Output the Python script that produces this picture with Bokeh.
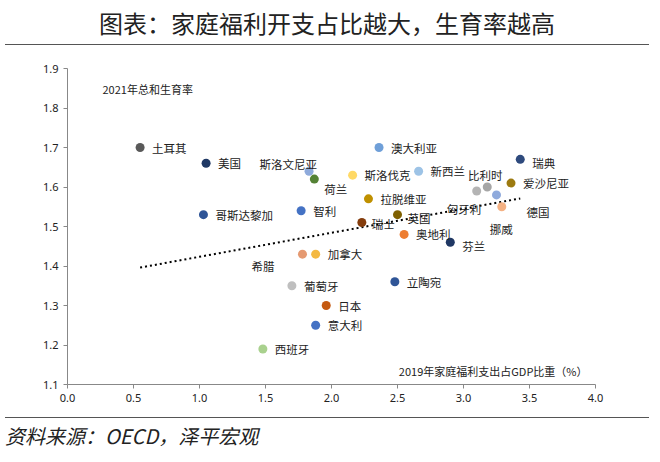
from bokeh.plotting import figure
from bokeh.models import ColumnDataSource, Div, Label, FixedTicker, NumeralTickFormatter
from bokeh.layouts import column
from bokeh.embed import file_html
from bokeh.resources import INLINE
from bokeh.core.properties import value

countries = ["土耳其","美国","斯洛文尼亚","荷兰","哥斯达黎加","智利","希腊","加拿大","葡萄牙","日本","意大利","西班牙",
             "澳大利亚","斯洛伐克","拉脱维亚","瑞士","英国","奥地利","芬兰","立陶宛","新西兰","瑞典","匈牙利","比利时","爱沙尼亚","德国","挪威"]
welfare = [0.55,1.05,1.83,1.87,1.03,1.77,1.78,1.88,1.70,1.96,1.88,1.48,
           2.36,2.16,2.28,2.23,2.50,2.55,2.90,2.48,2.66,3.43,3.10,3.18,3.36,3.25,3.29]
fertility = [1.70,1.66,1.64,1.62,1.53,1.54,1.43,1.43,1.35,1.30,1.25,1.19,
             1.70,1.63,1.57,1.51,1.53,1.48,1.46,1.36,1.64,1.67,1.59,1.60,1.61,1.58,1.55]
colors = ["#595959","#1f3864","#8eaadb","#548235","#2f5597","#4472c4","#e59a72","#f4b942","#bfbfbf","#c55a11","#4472c4","#a9d18e",
          "#6f9fd8","#ffd966","#bf9000","#843c0c","#7f6000","#ed7d31","#203864","#2f5597","#9dc3e6","#2e4a7d","#b4b4b4","#a6a6a6","#9c7a10","#8faadc","#f4b183"]
label_dx = [12,12,8,10,12,12,-28,12,12,12,12,12, 12,12,12,10,10,12,12,12,12,12,-30,-2,12,30,-12]
label_dy = [0,0,7,-10,0,0,-12,0,0,0,0,0, 0,0,0,-1,-3,0,-4,0,0,-4,-18,12,0,-17,-22]
label_align = ["left","left","right","left","left","left","right","left","left","left","left","left",
               "left","left","left","left","left","left","left","left","left","left","left","center","left","left","left"]
trend_x = [0.55, 3.43]
trend_y = [1.396, 1.571]

src = ColumnDataSource(dict(x=welfare, y=fertility, c=colors, t=countries, dx=label_dx, dy=[-d for d in label_dy], a=label_align))

p = figure(width=644, height=362, x_range=(0, 4), y_range=(1.1, 1.9), output_backend="svg",
           toolbar_location=None, min_border_left=67, min_border_right=49, min_border_top=18, min_border_bottom=28)
p.outline_line_color = None
p.xgrid.visible = False
p.ygrid.visible = False
p.line(trend_x, trend_y, line_color="black", line_width=2, line_dash="2 3")
p.scatter("x", "y", source=src, size=9, fill_color="c", line_color=None)
p.text("x", "y", text="t", source=src, x_offset="dx", y_offset="dy", text_align="a", text_baseline="middle",
       text_font=value("Noto Sans CJK SC"), text_font_size="11.5px", text_color="#222222")
p.xaxis.ticker = FixedTicker(ticks=[0, 0.5, 1, 1.5, 2, 2.5, 3, 3.5, 4])
p.yaxis.ticker = FixedTicker(ticks=[1.1, 1.2, 1.3, 1.4, 1.5, 1.6, 1.7, 1.8, 1.9])
p.xaxis.formatter = NumeralTickFormatter(format="0.0")
p.yaxis.formatter = NumeralTickFormatter(format="0.0")
for ax in (p.xaxis, p.yaxis):
    ax.major_label_text_font = "Noto Sans"
    ax.major_label_text_font_size = "11px"
    ax.major_label_text_color = "#222222"
    ax.axis_line_color = "#888888"
    ax.major_tick_line_color = "#888888"
    ax.minor_tick_line_color = None
    ax.major_tick_in = 0
    ax.major_tick_out = 4
p.add_layout(Label(x=35, y=288, x_units="screen", y_units="screen", text="2021年总和生育率",
                   text_font="Noto Sans CJK SC", text_font_size="11px", text_color="#222222"))
p.add_layout(Label(x=520, y=6, x_units="screen", y_units="screen", text="2019年家庭福利支出占GDP比重（%）", text_align="right",
                   text_font="Noto Sans CJK SC", text_font_size="11px", text_color="#222222"))

title = Div(text="图表：家庭福利开支占比越大，生育率越高", width=644, height=40,
            styles={"font-family": "Noto Sans CJK SC", "font-size": "24px", "text-align": "center",
                    "border-bottom": "1.5px solid #555", "width": "644px", "line-height": "36px", "color": "#222"})
foot = Div(text="资料来源：OECD，泽平宏观", width=644, height=40,
           styles={"font-family": "Noto Sans CJK SC", "font-size": "20px", "font-style": "italic",
                   "border-top": "1.5px solid #555", "width": "644px", "line-height": "36px", "color": "#222"})
open("out.html", "w").write(file_html(column(title, p, foot, spacing=0), INLINE))
